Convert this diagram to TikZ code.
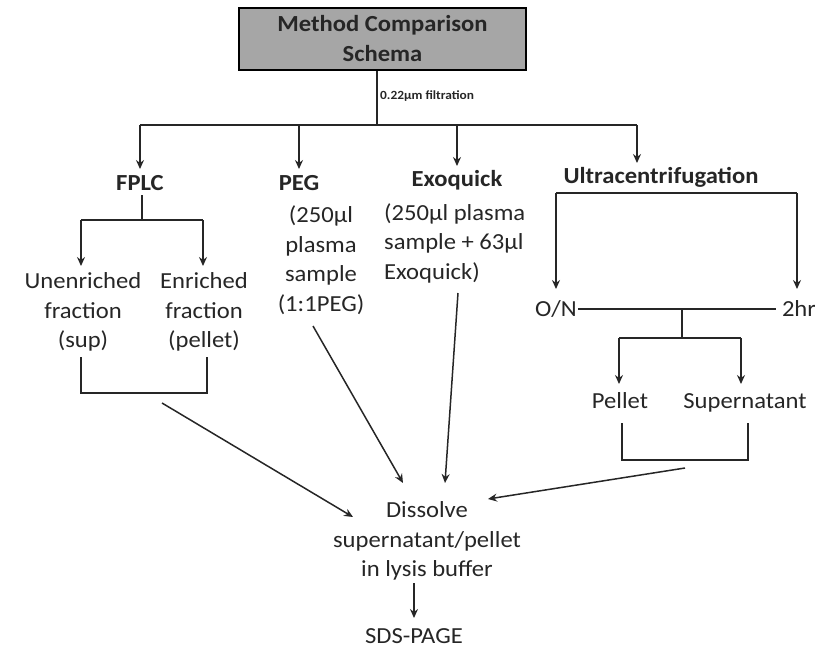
\documentclass[tikz,border=0pt]{standalone}
\usepackage{fontspec}
\setmainfont{Carlito}[FakeStretch=1.07]
\usetikzlibrary{arrows.meta}
\definecolor{ink}{HTML}{262626}
\begin{document}
\begin{tikzpicture}[x=1pt,y=-1pt,
  line/.style={draw=ink, line width=1.5pt},
  arr/.style={line, -{Stealth[length=9pt,width=8pt,inset=3pt]}},
  txt/.style={text=ink, font=\fontsize{23}{29.5}\selectfont, align=center, inner sep=0pt},
  one/.style={text=ink, font=\fontsize{23}{29.5}\selectfont, inner sep=0pt, anchor=base},
  head/.style={text=ink, font=\fontsize{23}{29}\selectfont\bfseries, inner sep=0pt, anchor=base}]
\useasboundingbox (0,0) rectangle (815,649);

% title
\node[draw=black, line width=1.5pt, fill=gray!70, minimum width=287pt, minimum height=62pt,
      inner sep=0pt, align=center, text=ink, font=\fontsize{23}{30}\selectfont\bfseries]
      (title) at (382.5,39) {Method Comparison\\Schema};
\node[text=ink, font=\fontsize{12.5}{14}\selectfont\bfseries, inner sep=0pt, anchor=west] (filt) at (380,96) {0.22µm filtration};

\coordinate (split) at (377,125);
\coordinate (tL) at (140,125);
\coordinate (tR) at (637,125);
\draw[line] (title.south -| split) -- (split);
\draw[line] (tL) -- (tR);

% method headings
\node[head] (fplc) at (140,190) {FPLC};
\node[head] (peg) at (299,190) {PEG};
\node[head] (exo) at (457,186) {Exoquick};
\node[head] (ultra) at (661,183) {Ultracentrifugation};

\draw[arr] (tL) -- (tL |- 0,169);
\draw[arr] (peg.north |- split) -- (peg.north |- 0,169);
\draw[arr] (exo.north |- split) -- (exo.north |- 0,166);
\draw[arr] (tR) -- (tR |- 0,163);

% FPLC branch
\node[txt] (unen) at (83,312) {Unenriched\\fraction\\(sup)};
\node[txt] (enr) at (204,312) {Enriched\\fraction\\(pellet)};
\coordinate (fj) at (142,220);
\coordinate (fjL) at (81,220);
\coordinate (fjR) at (203,220);
\draw[line] (fj |- 0,195) -- (fj);
\draw[line] (fjL) -- (fjR);
\draw[arr] (fjL) -- (fjL |- 0,266);
\draw[arr] (fjR) -- (fjR |- 0,266);
\coordinate (fb1) at (81,357);
\coordinate (fb2) at (207,357);
\draw[line] (fb1) -- (81,393) -- (207,393) -- (fb2);
\coordinate (fa) at (162,403);

% PEG
\node[txt] (pegt) at (321,260) {(250µl\\plasma\\sample\\(1:1PEG)};
\coordinate (pa) at (313,326);

% Exoquick
\node[txt, align=left, anchor=west] (exot) at (384,243) {(250µl plasma\\sample + 63µl\\Exoquick)};
\coordinate (ea) at (458,293);

% Ultracentrifugation
\coordinate (uL) at (556,193);
\coordinate (uR) at (797,193);
\draw[line] (uL) -- (uR);
\node[one] (on) at (556,316) {O/N};
\node[one] (twohr) at (799,316) {2hr};
\draw[arr] (uL) -- (uL |- 0,289);
\draw[arr] (uR) -- (uR |- 0,289);
\coordinate (uj) at (682,309);
\draw[line] (on.east |- uj) ++(1,0) -- ([xshift=-6pt]twohr.west |- uj);
\coordinate (uj2) at (682,338);
\draw[line] (uj) -- (uj2);
\node[one] (pel) at (620,408) {Pellet};
\node[one] (sup) at (745,408) {Supernatant};
\coordinate (ujL) at (619,338);
\coordinate (ujR) at (741,338);
\draw[line] (ujL) -- (ujR);
\draw[arr] (ujL) -- (ujL |- 0,384);
\draw[arr] (ujR) -- (ujR |- 0,384);
\coordinate (ub1) at (622,423);
\coordinate (ub2) at (748,423);
\draw[line] (ub1) -- (622,460) -- (748,460) -- (ub2);
\coordinate (ua) at (685,468);

% Dissolve
\node[txt] (dis) at (427,541) {Dissolve\\supernatant/pellet\\in lysis buffer};
\coordinate (d1) at (353,517);
\coordinate (d2) at (403,483);
\coordinate (d3) at (445,483);
\coordinate (d4) at (488,499);
\draw[arr] (fa) -- (d1);
\draw[arr] (pa) -- (d2);
\draw[arr] (ea) -- (d3);
\draw[arr] (ua) -- (d4);

\node[one] (sds) at (414,643) {SDS-PAGE};
\coordinate (sa) at (414,583);
\draw[arr] (sa) -- (sa |- 0,618);
\end{tikzpicture}
\end{document}
